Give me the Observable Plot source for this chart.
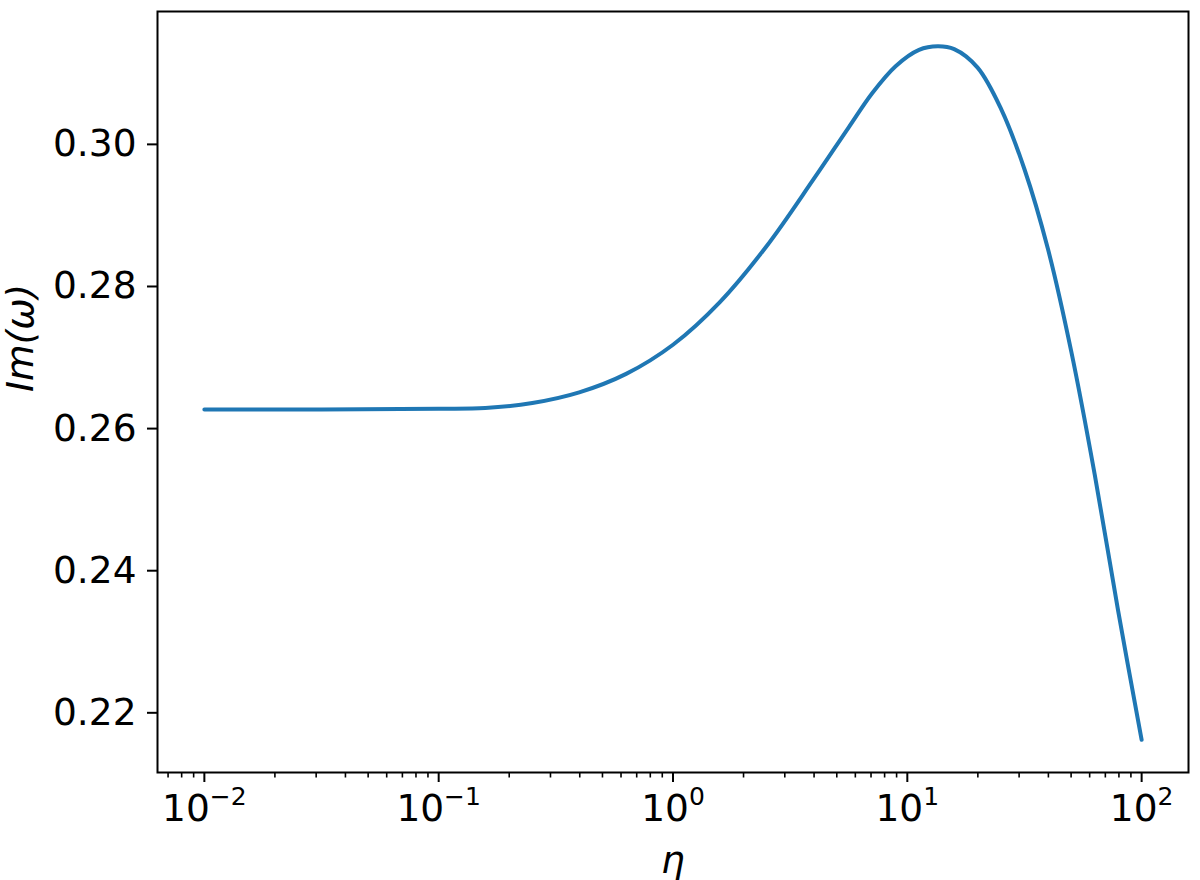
<!DOCTYPE html>
<html>
<head>
<meta charset="utf-8">
<script src="https://cdn.jsdelivr.net/npm/d3@7"></script>
<script src="https://cdn.jsdelivr.net/npm/@observablehq/plot@0.6"></script>
<style>
  html, body { margin: 0; padding: 0; background: #fff; }
  #chart svg { display: block; }
</style>
</head>
<body>
<div id="chart"></div>
<script>
// eta values (log-spaced samples)
const etaValues = [0.01, 0.0316, 0.1, 0.158, 0.251, 0.398, 0.631, 1.0, 1.585, 2.512, 3.981,
  5.623, 7.079, 8.913, 11.22, 13.49, 15.85, 19.95, 25.12, 31.62, 39.81, 50.12, 63.10, 79.43, 100];
// Im(omega) at those eta values
const imOmega = [0.2627, 0.2627, 0.2628, 0.2629, 0.2636, 0.2651, 0.2677, 0.2718, 0.2778, 0.2857, 0.2951,
  0.3024, 0.3072, 0.3110, 0.3133, 0.3138, 0.3134, 0.3108, 0.3050, 0.2965, 0.2853, 0.2708, 0.2535, 0.2343, 0.2162];

const xMajorTicks = [0.01, 0.1, 1, 10, 100];
const xMinorTicks = [];
for (const d of [0.001, 0.01, 0.1, 1, 10, 100]) for (let k = 2; k <= 9; k++) xMinorTicks.push(k * d);
const yTicks = [0.22, 0.24, 0.26, 0.28, 0.30];

const data = etaValues.map((eta, i) => ({eta, im: imOmega[i]}));

const FONT = "DejaVu Sans, sans-serif";
const FS = 37.5;

const plot = Plot.plot({
  width: 1200,
  height: 880,
  marginLeft: 157,
  marginRight: 12,
  marginTop: 11,
  marginBottom: 108,
  style: {fontFamily: FONT, fontSize: FS + "px", color: "black", background: "white"},
  x: {type: "log", domain: [Math.pow(10, -2.2), Math.pow(10, 2.2)]},
  y: {domain: [0.2116, 0.3187]},
  marks: [
    Plot.line(data, {x: "eta", y: "im", stroke: "#1f77b4", strokeWidth: 4, curve: "catmull-rom"}),
    Plot.axisY({ticks: yTicks, tickFormat: d3.format(".2f"), tickSize: 10, tickPadding: 11, strokeWidth: 2, fontSize: FS, label: null}),
    Plot.axisX({ticks: xMinorTicks.filter(t => t > 0.0063 && t < 158), tickSize: 5.5, strokeWidth: 1.6, tickFormat: () => "", label: null}),
    Plot.axisX({ticks: xMajorTicks, tickSize: 10, tickPadding: 12, strokeWidth: 2, fontSize: FS,
      tickFormat: d => "10^" + Math.round(Math.log10(d)), label: null}),
    Plot.frame({stroke: "black", strokeWidth: 2}),
    Plot.text(["η"], {frameAnchor: "bottom", dy: 88, text: d => d, fontSize: FS, fontStyle: "italic", lineAnchor: "middle"}),
    Plot.text(["Im(ω)"], {frameAnchor: "left", dx: -137, rotate: -90, text: d => d, fontSize: FS, fontStyle: "italic", lineAnchor: "middle"})
  ]
});

// turn "10^e" tick labels into 10 with a superscript exponent
plot.querySelectorAll("text").forEach(t => {
  const s = t.textContent;
  const m = /^10\^(-?\d+)$/.exec(s);
  if (!m) return;
  const exp = m[1].replace("-", "\u2212");
  while (t.firstChild) t.removeChild(t.firstChild);
  const base = document.createElementNS("http://www.w3.org/2000/svg", "tspan");
  base.textContent = "10";
  const sup = document.createElementNS("http://www.w3.org/2000/svg", "tspan");
  sup.textContent = exp;
  sup.setAttribute("font-size", "25px");
  sup.setAttribute("dy", "-16");
  t.appendChild(base);
  t.appendChild(sup);
});

document.getElementById("chart").appendChild(plot);
</script>
</body>
</html>
